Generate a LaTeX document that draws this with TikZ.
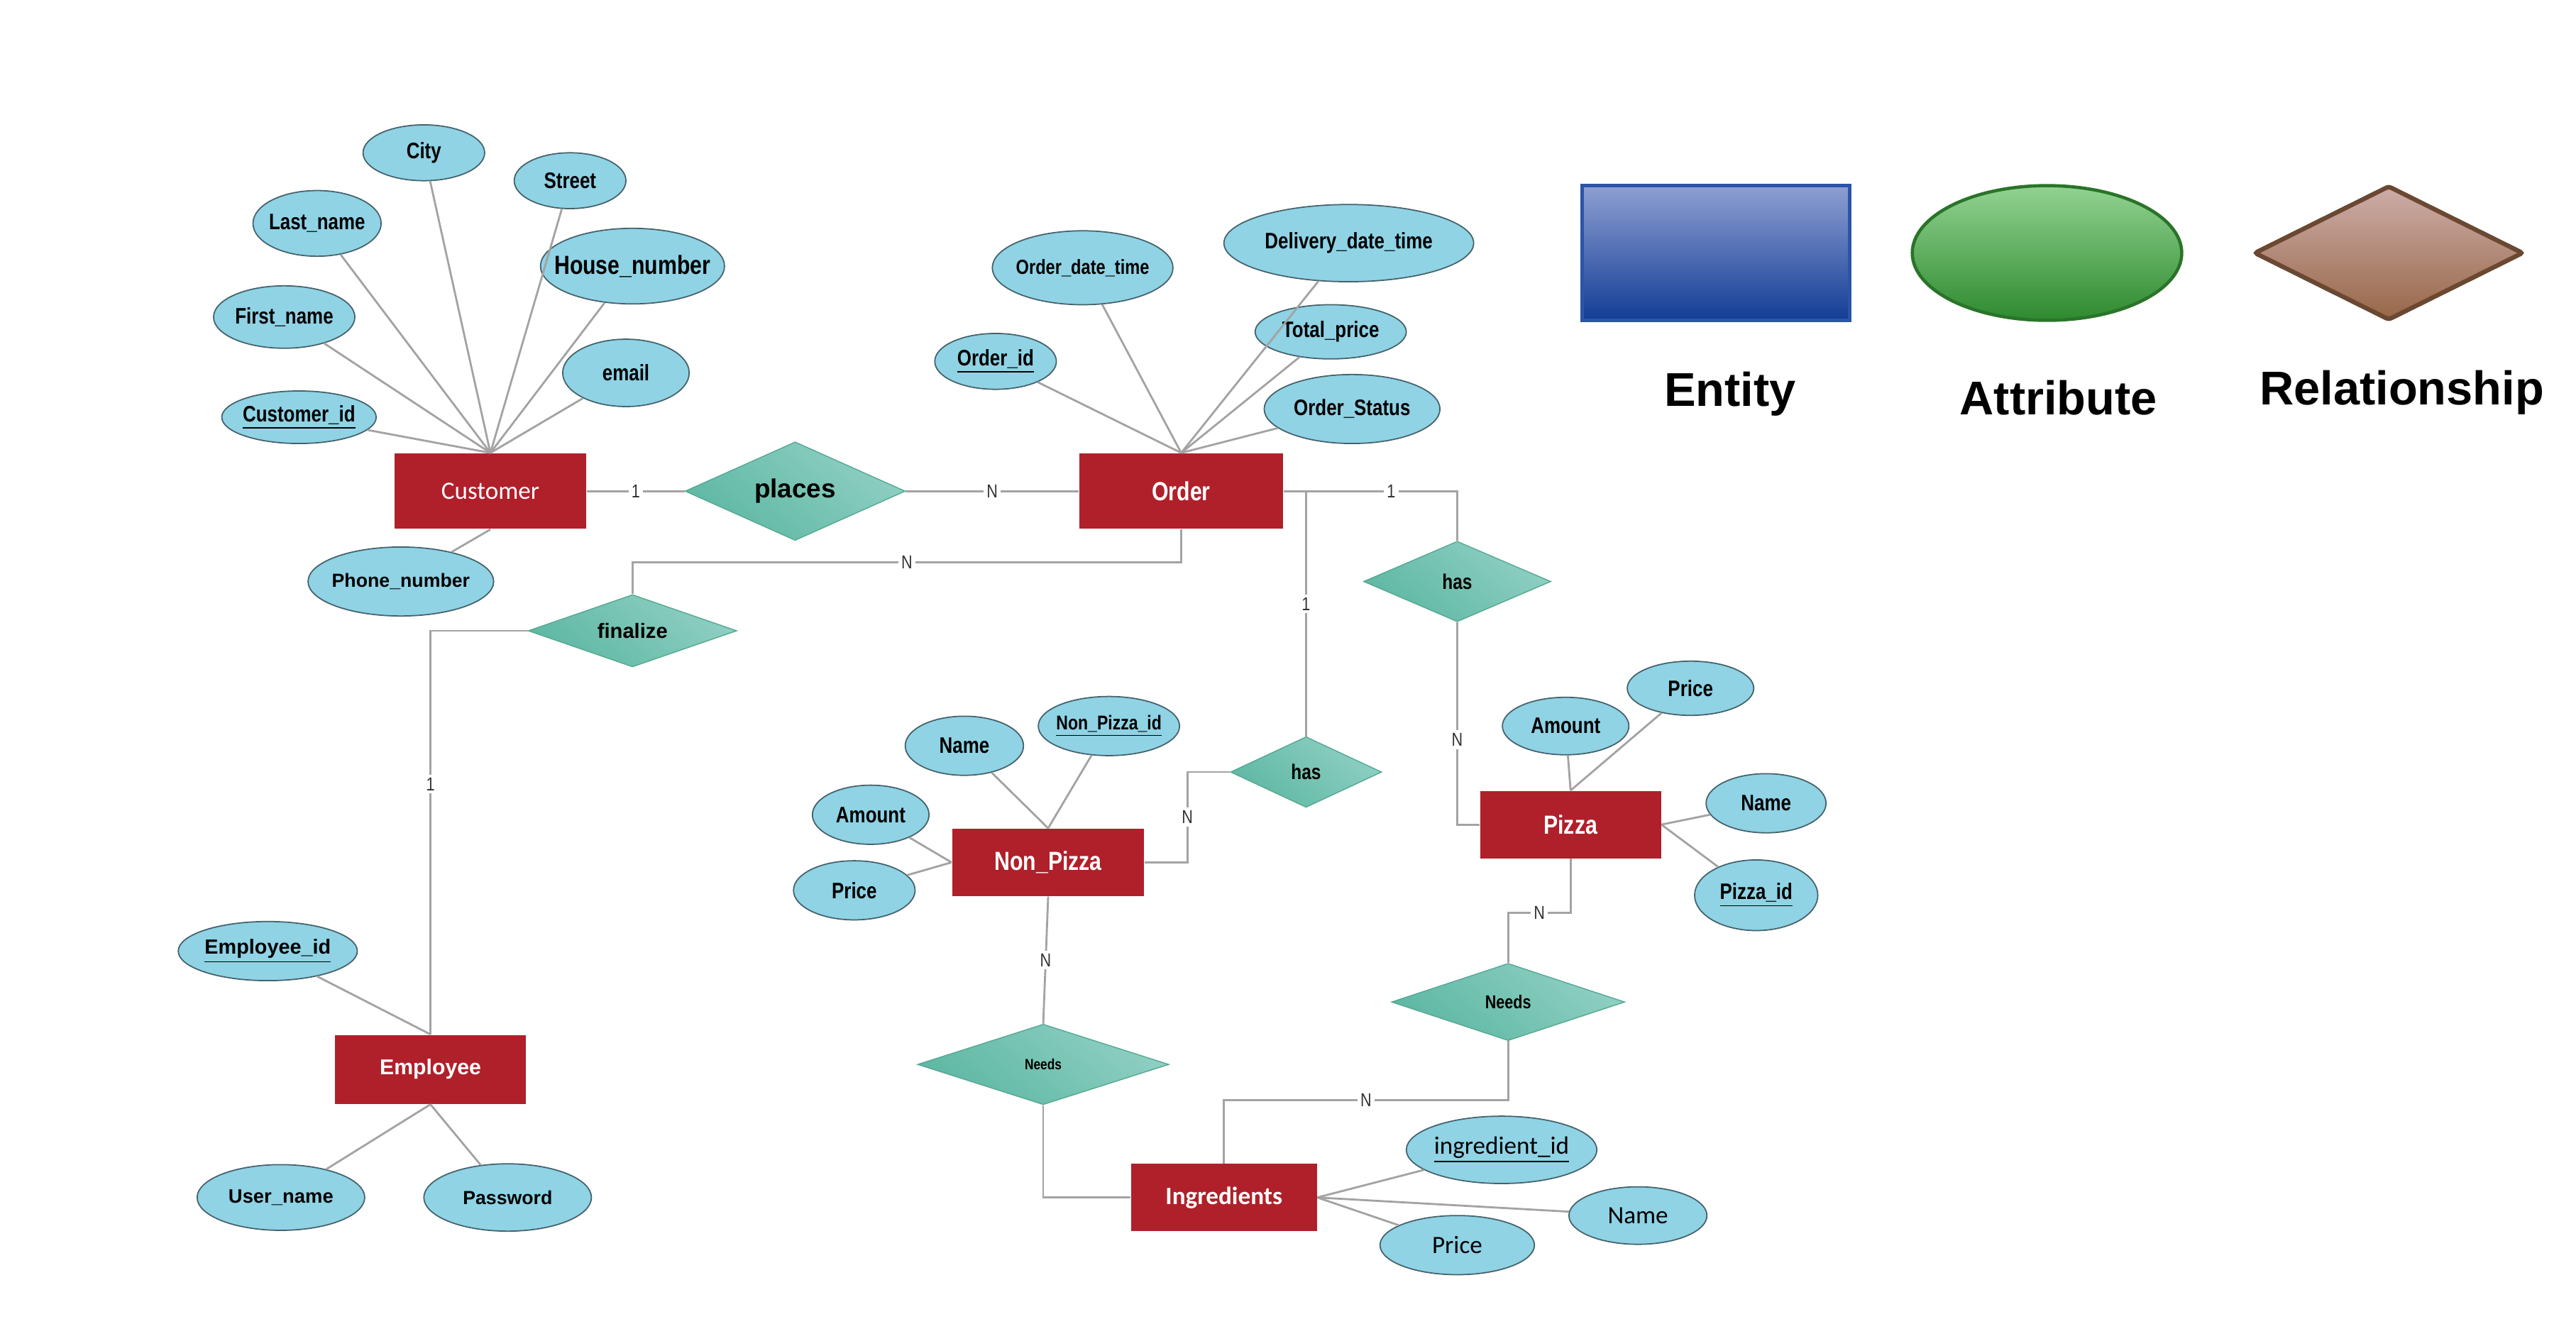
\documentclass[tikz,border=0pt]{standalone}
\usepackage{fontspec}
\setmainfont{Liberation Sans}
\newfontfamily\nar[FakeStretch=0.82]{Liberation Sans}
\newfontfamily\carl{Carlito}
\usetikzlibrary{shapes.geometric}
\newlength\PX \setlength\PX{0.02315cm}
\newcommand\mb[1]{\makebox[0pt]{#1}}
\definecolor{entred}{HTML}{B0202A}
\definecolor{attrblue}{HTML}{8FD3E5}
\definecolor{attrline}{HTML}{44626B}
\definecolor{conn}{HTML}{A3A3A3}
\definecolor{reldark}{HTML}{5EB8A3}
\definecolor{rellight}{HTML}{8FCFC3}
\definecolor{relline}{HTML}{55A892}
\definecolor{legbluetop}{HTML}{8E9FD2}
\definecolor{legbluebot}{HTML}{133D95}
\definecolor{legblueline}{HTML}{2A55A8}
\definecolor{leggreentop}{HTML}{92D292}
\definecolor{leggreenbot}{HTML}{2E8A2E}
\definecolor{leggreenline}{HTML}{2A742A}
\definecolor{legbrowntop}{HTML}{CDADA9}
\definecolor{legbrownbot}{HTML}{986748}
\definecolor{legbrownline}{HTML}{6A4832}
\tikzset{
  ent/.style n args={2}{rectangle, fill=entred, minimum width=#1\PX, minimum height=#2\PX, inner sep=0pt, text=white, font=\nar\bfseries\fontsize{10.5}{12}\selectfont},
  attr/.style n args={2}{ellipse, draw=attrline, line width=0.5pt, fill=attrblue, minimum width=#1\PX, minimum height=#2\PX, inner sep=0pt, font=\nar\bfseries\fontsize{9}{10}\selectfont},
  wideattr/.style={font=\bfseries\fontsize{#1}{10}\selectfont},
  carlattr/.style={font=\carl\fontsize{10}{12}\selectfont},
  rel/.style n args={2}{diamond, draw=relline, line width=0.4pt, minimum width=#1\PX, minimum height=#2\PX, inner sep=0pt, top color=rellight, bottom color=reldark, shading angle=-40, font=\nar\bfseries\fontsize{8.5}{10}\selectfont},
  conn/.style={draw=conn, line width=0.8pt},
  card/.style={fill=white, inner sep=1.2pt, text=black!80, font=\nar\fontsize{7.5}{8}\selectfont},
  legtext/.style={font=\bfseries\fontsize{19}{22}\selectfont}
}
\begin{document}
\begin{tikzpicture}[x=\PX, y=-\PX]
\useasboundingbox (0,0) rectangle (1568,806);
\fill[white] (0,0) rectangle (1568,806);

% ---------- entities ----------
\node[ent={117}{46}, font=\carl\fontsize{10}{12}\selectfont] (cust) at (298.5,299) {Customer};
\node[ent={124}{46}] (ord) at (719,299) {Order};
\node[ent={116}{42}, font=\bfseries\fontsize{8.6}{11}\selectfont] (emp) at (262,651) {Employee};
\node[ent={117}{41}] (np) at (638,525) {Non\_Pizza};
\node[ent={110}{41}] (pizza) at (956,502) {Pizza};
\node[ent={113}{41}, font=\carl\bfseries\fontsize{10}{12}\selectfont] (ing) at (745,729) {Ingredients};

% ---------- relationships ----------
\node[rel={134}{60}, font=\bfseries\fontsize{10.5}{12}\selectfont] (pl) at (484,299) {\mb{places}};
\node[rel={127}{44}, font=\bfseries\fontsize{8.3}{10}\selectfont] (fin) at (385,384) {\mb{finalize}};
\node[rel={114}{49}] (has1) at (887,354) {\mb{has}};
\node[rel={92}{43}] (has2) at (795,470) {\mb{has}};
\node[rel={142}{47}, font=\nar\bfseries\fontsize{7.5}{9}\selectfont] (needsR) at (918,610) {\mb{Needs}};
\node[rel={153}{49}, font=\nar\bfseries\fontsize{6}{7}\selectfont] (needsL) at (635,648) {\mb{Needs}};

% ---------- customer attributes ----------
\node[attr={94}{32}] (cid) at (182,254) {\mb{\underline{Customer\_id}}};
\node[attr={86}{38}] (fname) at (173,193) {\mb{First\_name}};
\node[attr={78}{40}] (lname) at (193,136) {\mb{Last\_name}};
\node[attr={74}{34}] (city) at (258,93) {\mb{City}};
\node[attr={68}{34}] (street) at (347,110) {\mb{Street}};
\node[attr={112}{46}, font=\nar\bfseries\fontsize{10.5}{12}\selectfont] (house) at (385,162) {\mb{House\_number}};
\node[attr={77}{41}] (email) at (381,227) {\mb{email}};
\node[attr={113}{42}, wideattr=7.6] (phone) at (244,354) {\mb{Phone\_number}};

% ---------- order attributes ----------
\node[attr={74}{34}] (oid) at (606,220) {\mb{\underline{Order\_id}}};
\node[attr={110}{45}, font=\nar\bfseries\fontsize{8.2}{10}\selectfont] (odt) at (659,163) {\mb{Order\_date\_time}};
\node[attr={152}{47}] (ddt) at (821,148) {\mb{Delivery\_date\_time}};
\node[attr={92}{33}] (tprice) at (810,202) {\mb{Total\_price}};
\node[attr={107}{42}] (ostat) at (823,249) {\mb{Order\_Status}};

% ---------- employee attributes ----------
\node[attr={109}{36}, wideattr=8.2] (eid) at (163,579) {\mb{\underline{Employee\_id}}};
\node[attr={102}{40}, wideattr=7.8] (uname) at (171,729) {\mb{User\_name}};
\node[attr={102}{41}, wideattr=7.6] (pwd) at (309,729) {\mb{Password}};

% ---------- non pizza attributes ----------
\node[attr={72}{36}] (npname) at (587,454) {\mb{Name}};
\node[attr={86}{36}, font=\nar\bfseries\fontsize{8}{9}\selectfont] (npid) at (675,442) {\mb{\underline{Non\_Pizza\_id}}};
\node[attr={71}{36}] (npamt) at (530,496) {\mb{Amount}};
\node[attr={74}{36}] (npprice) at (520,542) {\mb{Price}};

% ---------- pizza attributes ----------
\node[attr={77}{35}] (pamt) at (953,442) {\mb{Amount}};
\node[attr={77}{33}] (pprice) at (1029,419) {\mb{Price}};
\node[attr={73}{36}] (pname) at (1075,489) {\mb{Name}};
\node[attr={75}{43}] (pid) at (1069,545) {\mb{\underline{Pizza\_id}}};

% ---------- ingredient attributes ----------
\node[attr={116}{41}, carlattr] (ingid) at (914,700) {\mb{\underline{ingredient\_id}}};
\node[attr={84}{35}, carlattr] (ingname) at (997,740) {\mb{Name}};
\node[attr={94}{36}, carlattr] (ingprice) at (887,758) {\mb{Price}};

% ---------- attribute connectors ----------
\foreach \a in {cid,fname,lname,city,street,house,email}
  \draw[conn] (\a) -- (cust.north);
\draw[conn] (cust.south) -- (phone);
\foreach \a in {oid,odt,ddt,tprice,ostat}
  \draw[conn] (\a) -- (ord.north);
\draw[conn] (eid) -- (emp.north);
\draw[conn] (uname) -- (emp.south);
\draw[conn] (pwd) -- (emp.south);
\draw[conn] (npname) -- (np.north);
\draw[conn] (npid) -- (np.north);
\draw[conn] (npamt) -- (np.west);
\draw[conn] (npprice) -- (np.west);
\draw[conn] (pamt) -- (pizza.north);
\draw[conn] (pprice) -- (pizza.north);
\draw[conn] (pname) -- (pizza.east);
\draw[conn] (pid) -- (pizza.east);
\draw[conn] (ingid) -- (ing.east);
\draw[conn] (ingname) -- (ing.east);
\draw[conn] (ingprice) -- (ing.east);

% ---------- relationship connectors ----------
\draw[conn] (cust.east) -- node[card]{1} (pl.west);
\draw[conn] (pl.east) -- node[card]{N} (ord.west);
\draw[conn] (ord.south) -- ++(0,20) -| node[card, pos=0.25]{N} (fin.north);
\draw[conn] (fin.west) -| node[card, pos=0.69]{1} (emp.north);
\draw[conn] (ord.east) -| node[card, pos=0.31]{1} (has1.north);
\draw[conn] (has1.south) |- node[card, pos=0.29]{N} (pizza.west);
\draw[conn] (has2.north) -- node[card, pos=0.54]{1} (has2.north |- ord.east);
\draw[conn] (has2.west) -- ++(-26,0) |- node[card, pos=0.25]{N} (np.east);
\draw[conn] (np.south) -- node[card]{N} (needsL.north);
\draw[conn] (needsL.south) |- (ing.west);
\draw[conn] (pizza.south) -- ++(0,33) -| node[card, pos=0.25]{N} (needsR.north);
\draw[conn] (needsR.south) -- ++(0,36) -| node[card, pos=0.25]{N} (ing.north);

% ---------- legend ----------
\node[rectangle, minimum width=163\PX, minimum height=82\PX, inner sep=0pt, draw=legblueline, line width=1.3pt, top color=legbluetop, bottom color=legbluebot] (legent) at (1044.5,154) {};
\node[ellipse, minimum width=164\PX, minimum height=82\PX, inner sep=0pt, draw=leggreenline, line width=1.3pt, top color=leggreentop, bottom color=leggreenbot] (legattr) at (1246,154) {};
\node[diamond, minimum width=164\PX, minimum height=82\PX, inner sep=0pt, draw=legbrownline, line width=1.8pt, rounded corners=1pt, top color=legbrowntop, bottom color=legbrownbot] (legrel) at (1454,154) {};
\node[legtext] (legentt) at (1053,240) {Entity};
\node[legtext] (legattrt) at (1253,242) {Attribute};
\node[legtext] (legrelt) at (1462,239) {Relationship};
\end{tikzpicture}
\end{document}
